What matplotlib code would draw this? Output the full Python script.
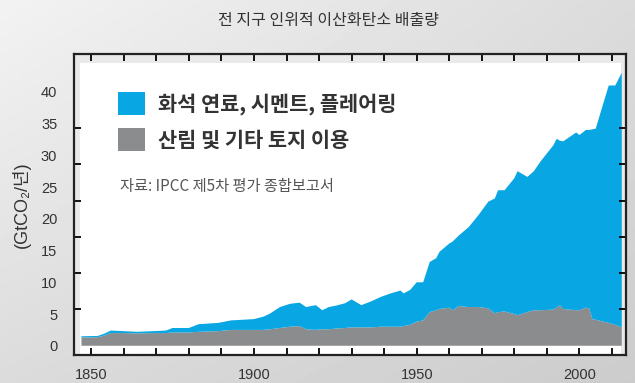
import matplotlib.pyplot as plt
import numpy as np
from matplotlib.patches import Rectangle, Patch

# 연도별 배출량 (GtCO2/년), 그림에서 읽은 값
years = [1847, 1852, 1854, 1856, 1860, 1864, 1869, 1873, 1875, 1880,
         1883, 1889, 1893, 1900, 1903, 1905, 1908, 1911, 1914, 1916,
         1919, 1921, 1923, 1925, 1928, 1930, 1933, 1936, 1939, 1942,
         1945, 1946, 1948, 1950, 1952, 1954, 1956, 1957, 1960, 1961,
         1963, 1966, 1969, 1972, 1974, 1975, 1977, 1980, 1981, 1984,
         1986, 1988, 1992, 1993, 1994, 1995, 1999, 2000, 2002, 2003,
         2004, 2005, 2009, 2011, 2013]
land_use = [1.3, 1.35, 1.6, 2.0, 2.0, 1.95, 2.0, 2.0, 2.1, 2.1,
            2.2, 2.3, 2.5, 2.5, 2.5, 2.6, 2.8, 3.0, 3.1, 2.6,
            2.5, 2.6, 2.6, 2.7, 2.8, 2.9, 2.9, 2.9, 3.0, 3.0,
            3.0, 3.1, 3.3, 3.8, 4.0, 5.3, 5.6, 5.8, 6.0, 5.6,
            6.25, 6.1, 6.1, 5.9, 5.1, 5.3, 5.4, 5.0, 4.8, 5.3,
            5.6, 5.6, 5.7, 6.0, 6.4, 5.8, 5.6, 5.6, 6.0, 5.9,
            4.2, 4.1, 3.6, 3.3, 2.9]
fossil = [0.2, 0.2, 0.3, 0.4, 0.3, 0.25, 0.3, 0.4, 0.7, 0.7,
          1.2, 1.3, 1.5, 1.7, 2.1, 2.5, 3.3, 3.6, 3.7, 3.5,
          3.9, 3.0, 3.5, 3.6, 3.9, 4.4, 3.5, 4.1, 4.7, 5.25,
          5.7, 5.15, 5.5, 6.2, 6.0, 7.9, 8.2, 9.0, 10.1, 10.8,
          11.15, 12.6, 14.5, 16.8, 18.1, 19.2, 19.1, 21.4, 22.7, 21.3,
          21.9, 23.4, 25.9, 26.6, 25.9, 26.4, 28.0, 27.6, 28.0, 28.1,
          29.9, 30.1, 37.4, 37.7, 40.1]

labels = ['화석 연료, 시멘트, 플레어링', '산림 및 기타 토지 이용']
blue = '#08a6e2'
gray = '#8b8c8e'
text_col = '#333333'

plt.rcParams['font.family'] = ['Liberation Sans', 'Noto Sans CJK KR', 'DejaVu Sans']

fig = plt.figure(figsize=(6.35, 3.83), dpi=100)

# 배경 그라데이션
bg = fig.add_axes([0, 0, 1, 1], zorder=-1)
gx, gy = np.meshgrid(np.linspace(0, 1, 200), np.linspace(0, 1, 120))
shade = 0.95 * (1 - gx) * (1 - gy) + 0.86 * gx * (1 - gy) + 0.86 * (1 - gx) * gy + 0.80 * gx * gy
bg.imshow(shade, cmap='gray', vmin=0, vmax=1, aspect='auto', extent=[0, 1, 0, 1])
bg.axis('off')

ax = fig.add_axes([0.1165, 0.073, 0.8693, 0.785])
ax.set_facecolor('#e9e9e9')
ax.add_patch(Rectangle((0.011, 0), 0.98, 0.973, transform=ax.transAxes,
                       facecolor='white', edgecolor='none', zorder=0))

ax.stackplot(years, land_use, fossil, colors=[gray, blue], linewidth=0, zorder=1)

ax.set_xlim(1844.7, 2014.3)
ax.set_ylim(-1.46, 45.9)

xt = list(range(1850, 2011, 10))
ax.set_xticks(xt, labels=[str(t) if t % 50 == 0 else '' for t in xt])
ax.set_yticks(range(0, 41, 5))
ax.set_yticks(np.linspace(0, 40, 8), minor=True)
ax.tick_params(axis='x', direction='in', top=True, length=5, width=1.3,
               pad=9, labelsize=10.5, labelcolor=text_col)
ax.tick_params(axis='y', which='major', length=0, pad=12,
               labelsize=10.5, labelcolor=text_col)
ax.tick_params(axis='y', which='minor', direction='in', left=True, right=True,
               length=5, width=1.3)
for s in ax.spines.values():
    s.set_linewidth(1.6)
    s.set_color('#222222')

ax.set_ylabel('(GtCO₂/년)', fontsize=13, color=text_col, labelpad=7)

handles = [Patch(facecolor=blue), Patch(facecolor=gray)]
ax.legend(handles, labels, loc='upper left', bbox_to_anchor=(0.08, 0.874),
          frameon=False, borderpad=0, borderaxespad=0,
          handlelength=1.3, handleheight=1.3, handletextpad=0.62,
          labelspacing=0.62, labelcolor=text_col,
          prop={'family': 'Noto Sans CJK KR', 'size': 15, 'weight': 'bold'})

ax.text(0.083, 0.559, '자료: IPCC 제5차 평가 종합보고서', transform=ax.transAxes,
        ha='left', va='center', fontsize=11, color='#555555',
        family=['Noto Sans CJK KR', 'DejaVu Sans'])

fig.text(0.518, 1 - 21 / 383, '전 지구 인위적 이산화탄소 배출량', ha='center', va='center',
         fontsize=11.5, color=text_col, family=['Noto Sans CJK KR', 'DejaVu Sans'])

fig.savefig('out.png', dpi=100)
